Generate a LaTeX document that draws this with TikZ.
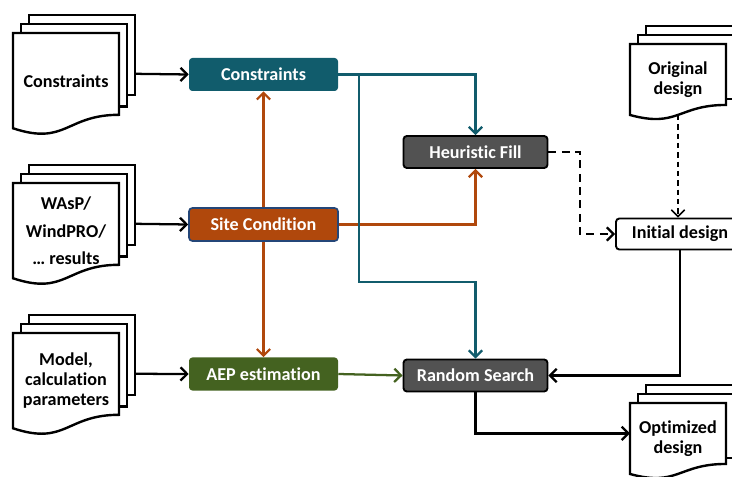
\documentclass[tikz,border=0pt]{standalone}
\usepackage{fontspec}
\setmainfont{Carlito}[Ligatures=NoCommon]
\usetikzlibrary{arrows.meta}

\definecolor{consteal}{RGB}{17,92,108}
\definecolor{siteorange}{RGB}{176,72,12}
\definecolor{aepgreen}{RGB}{68,98,32}
\definecolor{searchgray}{RGB}{82,82,82}
\definecolor{siteborder}{RGB}{36,70,120}

\newcommand{\boxfont}{\fontsize{13.6}{15}\selectfont\bfseries}

% stacked document: name, x, y (front top left), width, height, text
\newcommand{\multidoc}[6]{
    \begin{scope}[shift={(#2,#3)}]
        \draw[docline] (16,-9) -- (16,-18) -- (#4+16,-18) -- (#4+16,0.61*#5) -- (#4+8,0.61*#5);
        \draw[docline] (8,0) -- (8,-9) -- (#4+8,-9) -- (#4+8,0.72*#5) -- (#4,0.72*#5);
        \draw[docline,fill=white] (0,0) -- (#4,0) -- (#4,0.802*#5)
            .. controls (0.5*#4,0.802*#5) and (0.5*#4,1.1075*#5) .. (0,0.934*#5) -- cycle;
        \node[doctext] (#1) at (0.5*#4,0.47*#5) {#6};
        \coordinate (#1-e) at (#4+16,0.4*#5);
        \coordinate (#1-w) at (0,0.4*#5);
        \coordinate (#1-s) at (0.5*#4,0.933*#5);
    \end{scope}
}

\begin{document}
\begin{tikzpicture}[x=0.75pt, y=-0.75pt]
    \tikzstyle{docline}=[line width=1.8pt, line join=miter]
    \tikzstyle{doctext}=[align=center, font=\boxfont, inner sep=0pt]
    \tikzstyle{flowbox}=[rounded corners=2.5pt, minimum width=111.75pt, minimum height=24.75pt, text=white, font=\boxfont]
    \tikzstyle{searchbox}=[flowbox, fill=searchgray, draw=black, line width=1.4pt, minimum width=108pt, minimum height=24pt]
    \tikzstyle{designbox}=[rounded corners=2.5pt, draw=black, fill=white, line width=1.4pt, minimum width=96pt, minimum height=23.25pt, font=\boxfont]
    \tikzstyle{marr}=[line width=1.7pt, -{Straight Barb[length=5pt,width=10pt]}]

    \useasboundingbox (0,0) rectangle (732,477);
    \clip (0,0) rectangle (732,477);

    % input and output documents
    \multidoc{consdoc}{13}{33}{106}{102}{Constraints}
    \multidoc{winddoc}{13}{183}{106}{102}{WAsP/\\[5.5pt]WindPRO/\\[5.5pt]… results}
    \multidoc{modeldoc}{13}{333}{106}{102}{Model,\\calculation\\parameters}
    \multidoc{origdoc}{630}{44}{96}{76}{Original\\design}
    \multidoc{optdoc}{630}{403}{96}{76}{Optimized\\design}

    % process boxes
    \node[flowbox, fill=consteal] (cons) at (263.5,74.5) {Constraints};
    \node[flowbox, fill=siteorange, draw=siteborder, line width=1.2pt] (site) at (263.5,224.5) {Site Condition};
    \node[flowbox, fill=aepgreen] (aep) at (263.5,374) {AEP estimation};
    \node[searchbox] (heur) at (475.5,152) {Heuristic Fill};
    \node[searchbox] (rand) at (475.5,375.5) {Random Search};
    \node[designbox] (init) at (680,234) {Initial design};

    \coordinate (split) at (359,74.5);
    \coordinate (knee) at (475.5,282);
    \coordinate (hjog) at (580,152);

    % inputs
    \draw[marr] (consdoc-e) -- (cons.west);
    \draw[marr] (winddoc-e) -- (site.west);
    \draw[marr] (modeldoc-e) -- (aep.west);

    % site condition
    \draw[marr, siteorange] (site.north) -- (cons.south);
    \draw[marr, siteorange] (site.south) -- (aep.north);
    \draw[marr, siteorange] (site.east) -| (heur.south);

    % constraints
    \draw[marr, consteal] (cons.east) -| (heur.north);
    \draw[marr, consteal] (split) |- (knee) -- (rand.north);

    % AEP
    \draw[marr, aepgreen] (aep.east) -- (rand.west);

    % designs
    \draw[marr, dash pattern=on 6pt off 4pt] (heur.east) -- (hjog) |- (init.west);
    \draw[marr, line width=1.2pt, dash pattern=on 4pt off 3pt] (origdoc-s) -- (origdoc-s |- init.north);
    \draw[marr] (init.south) |- (rand.east);
    \draw[marr] (rand.south) |- (optdoc-w);

\end{tikzpicture}
\end{document}
